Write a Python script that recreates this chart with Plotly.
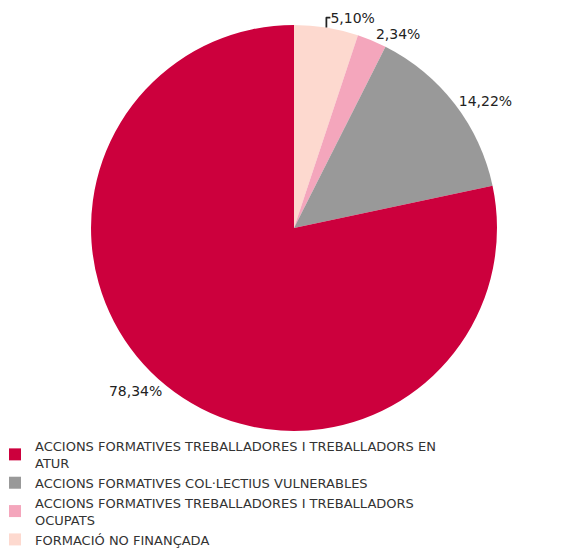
import plotly.graph_objects as go

# slice order as drawn clockwise from 12 o'clock
labels = [
    "FORMACIÓ NO FINANÇADA",
    "ACCIONS FORMATIVES TREBALLADORES I TREBALLADORS<br>OCUPATS",
    "ACCIONS FORMATIVES COL·LECTIUS VULNERABLES",
    "ACCIONS FORMATIVES TREBALLADORES I TREBALLADORS EN<br>ATUR",
]
values = [5.10, 2.34, 14.22, 78.34]
colors = ["#FDD9CF", "#F4A6BC", "#999999", "#CC003D"]

fig = go.Figure(go.Pie(
    labels=labels,
    values=values,
    sort=False,
    direction="clockwise",
    rotation=0,
    marker=dict(colors=colors, line=dict(width=0)),
    textposition="outside",
    texttemplate="%{value:.2f}%",
    textfont=dict(family="DejaVu Sans", size=14, color="#222222"),
    hole=0,
    domain=dict(x=[0.0251, 1.0], y=[0.2239, 0.9688]),
))

fig.update_layout(
    width=558,
    height=545,
    separators=",.",
    margin=dict(l=0, r=0, t=0, b=0, autoexpand=False),
    paper_bgcolor="white",
    plot_bgcolor="white",
    showlegend=True,
    legend=dict(
        orientation="v",
        traceorder="reversed",
        x=-0.0233, xanchor="left",
        y=0.2239, yanchor="top",
        bgcolor="rgba(0,0,0,0)",
        font=dict(family="DejaVu Sans", size=13, color="#333333"),
        tracegroupgap=0,
    ),
)

fig.write_html("out.html")
